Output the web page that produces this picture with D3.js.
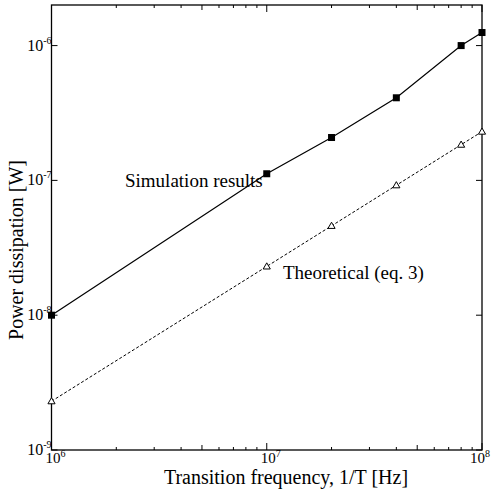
<!DOCTYPE html>
<html>
<head>
<meta charset="utf-8">
<script src="https://cdn.jsdelivr.net/npm/d3@7"></script>
<style>
  body { margin: 0; background: #fff; }
  svg { display: block; }
</style>
</head>
<body>
<svg id="chart" width="491" height="490"></svg>
<script>
// Transition frequency (Hz)
const frequencies = [1e6, 1e7, 2e7, 4e7, 8e7, 1e8];
// Power dissipation (W)
const simulated = [1.0e-8, 1.12e-7, 2.08e-7, 4.1e-7, 1.0e-6, 1.25e-6];
const theoretical = [2.3e-9, 2.3e-8, 4.6e-8, 9.2e-8, 1.84e-7, 2.3e-7];
const xMajorTicks = [1e6, 1e7, 1e8];
const xTickExponents = ["6", "7", "8"];
const yMajorTicks = [1e-9, 1e-8, 1e-7, 1e-6];
const yTickExponents = ["-9", "-8", "-7", "-6"];

const FONT = '"Liberation Serif"';
const svg = d3.select("#chart");
const m = { left: 51.5, right: 482, top: 5, bottom: 450 };

const x = d3.scaleLog().domain([1e6, 1e8]).range([m.left, m.right]);
const y = d3.scaleLog().domain([1e-9, 2e-6]).range([m.bottom, m.top]);

// minor x ticks: 2..9 within each decade
const xMinor = [];
[1e6, 1e7].forEach(d => { for (let k = 2; k <= 9; k++) xMinor.push(d * k); });

const g = svg.append("g");

// frame
g.append("rect")
  .attr("x", m.left).attr("y", m.top)
  .attr("width", m.right - m.left).attr("height", m.bottom - m.top)
  .attr("fill", "none").attr("stroke", "#000").attr("stroke-width", 1.3);

function xTickLen(v) {
  if (xMajorTicks.includes(v)) return 7;
  const k = Math.round(v / Math.pow(10, Math.floor(Math.log10(v) + 1e-9)));
  return k === 5 ? 5 : 3;
}
const xAllTicks = xMajorTicks.concat(xMinor);

// bottom and top ticks, pointing inward
g.selectAll("line.xb").data(xAllTicks).join("line")
  .attr("x1", d => x(d)).attr("x2", d => x(d))
  .attr("y1", m.bottom).attr("y2", d => m.bottom - xTickLen(d))
  .attr("stroke", "#000").attr("stroke-width", 1);
g.selectAll("line.xt").data(xAllTicks).join("line")
  .attr("x1", d => x(d)).attr("x2", d => x(d))
  .attr("y1", m.top).attr("y2", d => m.top + xTickLen(d))
  .attr("stroke", "#000").attr("stroke-width", 1);

// left and right y ticks
g.selectAll("line.yl").data(yMajorTicks).join("line")
  .attr("x1", m.left).attr("x2", m.left + 6)
  .attr("y1", d => y(d)).attr("y2", d => y(d))
  .attr("stroke", "#000").attr("stroke-width", 1);
g.selectAll("line.yr").data(yMajorTicks).join("line")
  .attr("x1", m.right).attr("x2", m.right - 6)
  .attr("y1", d => y(d)).attr("y2", d => y(d))
  .attr("stroke", "#000").attr("stroke-width", 1);

// x tick labels: 10 with superscript exponent; the last one is kept inside the page
xMajorTicks.forEach((v, i) => {
  const last = i === xMajorTicks.length - 1;
  const t = g.append("text")
    .attr("x", last ? 490 : x(v) - 6).attr("y", m.bottom + 13)
    .attr("text-anchor", last ? "end" : "start")
    .style("font-family", FONT).style("font-size", "15px");
  t.append("tspan").text("10");
  t.append("tspan").attr("dy", -6).style("font-size", "10px").text(xTickExponents[i]);
});

// y tick labels
yMajorTicks.forEach((v, i) => {
  const t = g.append("text")
    .attr("x", m.left).attr("y", y(v) + 5)
    .attr("text-anchor", "end")
    .style("font-family", FONT).style("font-size", "16px");
  t.append("tspan").text("10");
  t.append("tspan").attr("dy", -7).style("font-size", "10px").text(yTickExponents[i]);
});

// axis titles
g.append("text")
  .attr("x", 286).attr("y", 484)
  .attr("text-anchor", "middle")
  .style("font-family", FONT).style("font-size", "20px")
  .text("Transition frequency, 1/T [Hz]");
g.append("text")
  .attr("transform", "translate(23, 250) rotate(-90)")
  .attr("text-anchor", "middle")
  .style("font-family", FONT).style("font-size", "20px")
  .text("Power dissipation [W]");

const line = d3.line().x(d => x(d[0])).y(d => y(d[1]));
const simPts = frequencies.map((f, i) => [f, simulated[i]]);
const thPts = frequencies.map((f, i) => [f, theoretical[i]]);

// theoretical (dashed)
g.append("path").datum(thPts).attr("d", line)
  .attr("fill", "none").attr("stroke", "#000").attr("stroke-width", 1)
  .attr("stroke-dasharray", "3,2");
// simulation (solid)
g.append("path").datum(simPts).attr("d", line)
  .attr("fill", "none").attr("stroke", "#000").attr("stroke-width", 1.2);

// square markers
g.selectAll("rect.sq").data(simPts).join("rect")
  .attr("x", d => x(d[0]) - 3.5).attr("y", d => y(d[1]) - 3.5)
  .attr("width", 7).attr("height", 7).attr("fill", "#000");

// open triangle markers
const tri = d3.symbol().type(d3.symbolTriangle).size(22);
g.selectAll("path.tri").data(thPts).join("path")
  .attr("d", tri)
  .attr("transform", d => `translate(${x(d[0])},${y(d[1]) + 0.5})`)
  .attr("fill", "#fff").attr("stroke", "#000").attr("stroke-width", 1);

// series labels
g.append("text").attr("x", 125).attr("y", 187)
  .style("font-family", FONT).style("font-size", "19px")
  .text("Simulation results");
g.append("text").attr("x", 283).attr("y", 279)
  .style("font-family", FONT).style("font-size", "19px")
  .text("Theoretical (eq. 3)");
</script>
</body>
</html>
